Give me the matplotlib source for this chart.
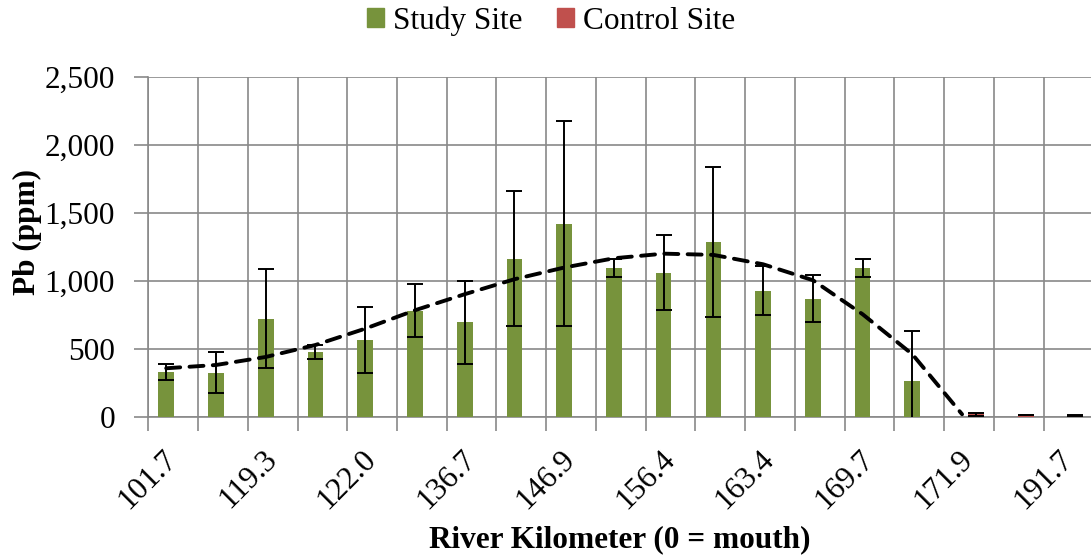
#!/usr/bin/env python3
"""Pb concentration along the river: study vs control sites."""

import matplotlib
matplotlib.use('Agg')
matplotlib.rcParams['font.family'] = ['Liberation Serif', 'DejaVu Serif']
import matplotlib.pyplot as plt
import matplotlib.patches as mpatches
import matplotlib.transforms as mtransforms
import numpy as np

# 19 sampling categories, labelled every other one on the axis
n_cat = 19
tick_labels = ['101.7', '119.3', '122.0', '136.7', '146.9',
               '156.4', '163.4', '169.7', '171.9', '191.7']

study_mean = [331, 326, 723, 478, 564, 782, 696, 1164, 1421,
              1095, 1061, 1284, 929, 870, 1095, 265]
study_err = [60, 150, 364, 54, 242, 194, 306, 495, 752,
             64, 277, 552, 182, 170, 64, 367]

control_mean = [20, 12, 14]
control_err = [10, 0, 3]

# polynomial trendline at each study position
trend_vals = [358, 382, 441, 529, 649, 784, 902, 1012, 1098,
              1166, 1200, 1191, 1122, 1005, 755, 461, 20]

GREEN = '#77933C'
RED = '#C0504D'
GRID = '#898989'
FS = 22.5

fig = plt.figure(figsize=(10.91, 5.60), dpi=100)
W, H = 1091, 560
left_px, right_px, top_px, bot_px = 148.3, 1093.4, 76.7, 417.0
ax = fig.add_axes([left_px / W, 1 - bot_px / H,
                   (right_px - left_px) / W, (bot_px - top_px) / H])

bar_w = 0.316
off = 0.14
x_study = np.arange(len(study_mean)) - off
x_ctrl = np.arange(len(study_mean), len(study_mean) + len(control_mean)) + off

err_kw = dict(ecolor='black', elinewidth=1.4, capsize=6, capthick=1.4)
ax.bar(x_study, study_mean, width=bar_w, color=GREEN, yerr=study_err,
       error_kw=err_kw, zorder=3)
ax.bar(x_ctrl, control_mean, width=bar_w, color=RED, yerr=control_err,
       error_kw=err_kw, zorder=3)

x_trend = np.arange(len(trend_vals)) - off
line, = ax.plot(x_trend, trend_vals, color='black', lw=2.8, zorder=4,
                solid_capstyle='butt', dash_capstyle='round')
line.set_dashes((3.6, 2.4))

ax.set_xlim(-0.5, n_cat - 0.5)
ax.set_ylim(0, 2500)

# category boundaries carry the grid and tick marks
ax.set_xticks(np.arange(n_cat + 1) - 0.5)
ax.set_xticklabels([])
ax.set_xticks(np.arange(0, n_cat, 2), minor=True)
ax.set_xticklabels(tick_labels, minor=True, rotation=45, ha='right', va='top',
                   fontsize=FS)
ax.tick_params(axis='x', which='major', length=10, width=1.2, color=GRID,
               direction='out')
ax.tick_params(axis='x', which='minor', length=0, pad=20)
shift = mtransforms.ScaledTranslation(10 / 100, 0, fig.dpi_scale_trans)
for lab in ax.get_xticklabels(minor=True):
    lab.set_transform(lab.get_transform() + shift)

ax.set_yticks(np.arange(0, 2501, 500))
ax.set_yticklabels([f'{v:,}' for v in range(0, 2501, 500)], fontsize=FS)
ax.tick_params(axis='y', length=10, width=1.2, color=GRID, pad=14)

ax.grid(True, which='major', color=GRID, lw=1.2, zorder=0)
ax.set_axisbelow(True)
for side in ['top', 'right']:
    ax.spines[side].set_visible(False)
for side in ['left', 'bottom']:
    ax.spines[side].set_color(GRID)
    ax.spines[side].set_linewidth(1.2)

fig.text(27 / W, 1 - 232 / H, 'Pb (ppm)', rotation=90, ha='center', va='center',
         fontsize=FS, fontweight='bold')
fig.text(620 / W, 1 - 540 / H, 'River Kilometer (0 = mouth)', ha='center',
         va='center', fontsize=FS, fontweight='bold')

handles = [mpatches.Patch(color=GREEN, label='Study Site'),
           mpatches.Patch(color=RED, label='Control Site')]
fig.legend(handles=handles, loc='center', bbox_to_anchor=(551 / W, 1 - 21 / H),
           ncol=2, frameon=False, fontsize=FS, handlelength=0.55,
           handleheight=0.55, handletextpad=0.28, columnspacing=1.1,
           borderpad=0)

fig.savefig('out.png', dpi=100, facecolor='white')
